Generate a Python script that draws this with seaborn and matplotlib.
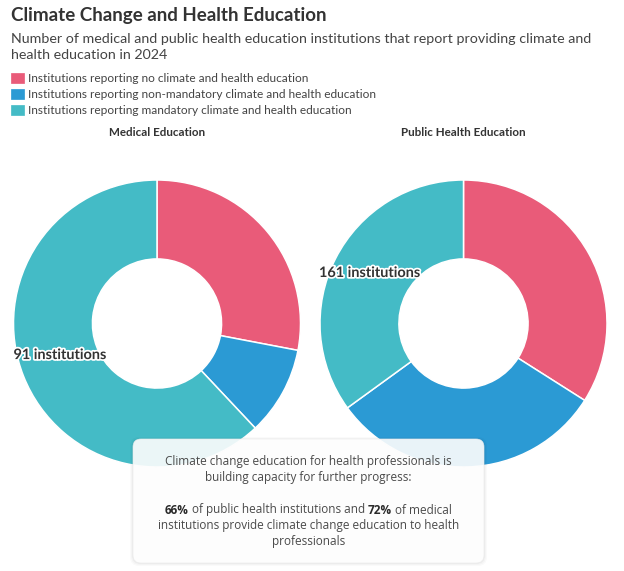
import matplotlib
matplotlib.use("Agg")
import matplotlib.pyplot as plt
import matplotlib.patheffects as pe
import seaborn as sns
from matplotlib.patches import Patch, FancyBboxPatch

# ---------------- data ----------------
categories = [
    "Institutions reporting no climate and health education",
    "Institutions reporting non-mandatory climate and health education",
    "Institutions reporting mandatory climate and health education",
]
medical_pct = [28, 10, 62]
public_pct = [34, 31, 35]
panel_titles = ["Medical Education", "Public Health Education"]
mandatory_counts = [91, 161]
colors = ["#E95B79", "#2B9AD4", "#44BBC6"]

title = "Climate Change and Health Education"
subtitle = ("Number of medical and public health education institutions that report providing climate and\n"
            "health education in 2024")

sns.set_theme(style="white")
plt.rcParams["font.family"] = ["Lato", "DejaVu Sans"]

W, H = 624, 571
fig = plt.figure(figsize=(W / 100, H / 100), dpi=100)
fig.patch.set_facecolor("white")


def fx(x):
    return x / W


def fy(y):
    return 1 - y / H


TXT = "#333333"

# ---------------- header ----------------
fig.text(fx(11), fy(16), title, fontsize=13.5, fontweight="bold", color=TXT, va="center", ha="left")
fig.text(fx(11), fy(47), subtitle, fontsize=10.3, color="#444444", va="center", ha="left", linespacing=1.45)

handles = [Patch(facecolor=c, edgecolor=c, linewidth=0.5) for c in colors]
fig.legend(handles, categories, loc="upper left", bbox_to_anchor=(fx(11), fy(73)),
           frameon=False, fontsize=8.55, handlelength=1.1, handleheight=0.9,
           handletextpad=0.3, labelspacing=0.42, borderaxespad=0, borderpad=0,
           labelcolor="#444444")

# ---------------- donuts ----------------
R = 143.5
centers = [(157, 323.5), (463.5, 323.5)]
datasets = [medical_pct, public_pct]
label_pos = [(-1.0, -0.22), (-1.007, 0.352)]

for (cx, cy), vals, ptitle, cnt, (lx, ly) in zip(centers, datasets, panel_titles, mandatory_counts, label_pos):
    ax = fig.add_axes([fx(cx - R), fy(cy + R), 2 * R / W, 2 * R / H])
    ax.pie(vals, colors=colors, startangle=90, counterclock=False, radius=1,
           wedgeprops=dict(width=0.55, edgecolor="white", linewidth=1.1))
    ax.set_xlim(-1, 1)
    ax.set_ylim(-1, 1)
    ax.set_aspect("equal")
    ax.axis("off")
    t = ax.text(lx, ly, f"{cnt} institutions", ha="left", va="center", fontsize=10.4,
                fontweight="bold", color="#333333")
    t.set_path_effects([pe.withStroke(linewidth=2.5, foreground="white")])
    fig.text(fx(cx), fy(133), ptitle, ha="center", va="center", fontsize=8.35,
             fontweight="bold", color=TXT)

# ---------------- callout box ----------------
ov = fig.add_axes([0, 0, 1, 1], zorder=10)
ov.set_xlim(0, W)
ov.set_ylim(H, 0)
ov.axis("off")
ov.patch.set_alpha(0)

bx0, by0, bx1, by1 = 133, 439, 484, 563
for i, a in enumerate([0.02, 0.025, 0.03]):
    d = 3 - i
    ov.add_patch(FancyBboxPatch((bx0 - d, by0 - d + 1), (bx1 - bx0) + 2 * d, (by1 - by0) + 2 * d - 1,
                                boxstyle="round,pad=0,rounding_size=9", facecolor="#000000",
                                edgecolor="none", alpha=a))
ov.add_patch(FancyBboxPatch((bx0, by0), bx1 - bx0, by1 - by0,
                            boxstyle="round,pad=0,rounding_size=8", facecolor="white",
                            edgecolor="#ececec", linewidth=0.5, alpha=0.9))

box_font = ["Open Sans", "DejaVu Sans"]
BFS = 8.45
BCOL = "#4a4a4a"
bcx = (bx0 + bx1) / 2
lines = [
    [("Climate change education for health professionals is", "normal")],
    [("building capacity for further progress:", "normal")],
    [],
    [("66%", "bold"), (" of public health institutions and ", "normal"), ("72%", "bold"), (" of medical", "normal")],
    [("institutions provide climate change education to health", "normal")],
    [("professionals", "normal")],
]
line_y = [462, 477, 494, 510, 526, 542]

fig.canvas.draw()
renderer = fig.canvas.get_renderer()
for segs, yy in zip(lines, line_y):
    if not segs:
        continue
    objs = []
    for s, w in segs:
        t = ov.text(0, yy, s, fontsize=BFS, fontweight=w, color=BCOL if w == "normal" else "#2a2a2a",
                    family=box_font, ha="left", va="center")
        objs.append(t)
    widths = []
    for t in objs:
        bb = t.get_window_extent(renderer=renderer)
        widths.append(bb.width)
    total = sum(widths)
    x = bcx - total / 2
    for t, wdt in zip(objs, widths):
        t.set_x(x)
        x += wdt

fig.savefig("out.png", dpi=100, facecolor="white")
